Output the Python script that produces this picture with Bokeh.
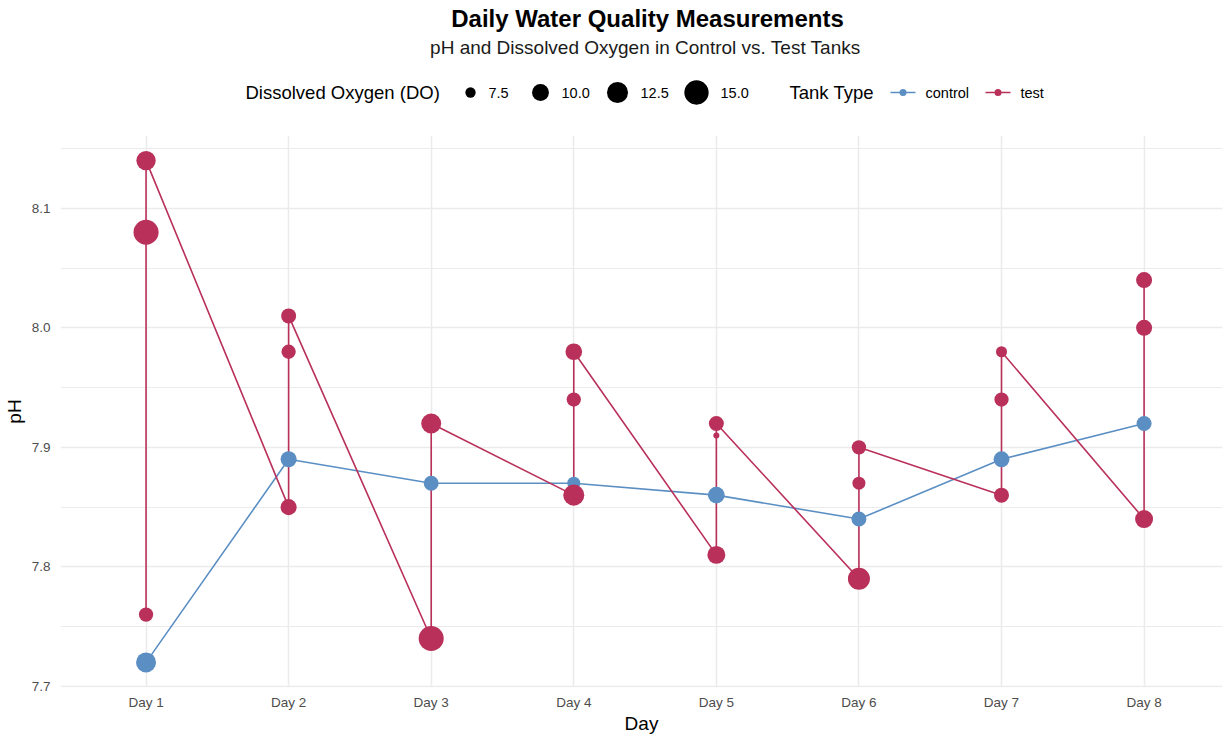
import math
from bokeh.plotting import figure
from bokeh.models import Range1d, FixedTicker
from bokeh.layouts import column
from bokeh.embed import file_html
from bokeh.resources import INLINE
from bokeh.core.properties import value

# ---------------- data ----------------
days = ["Day 1", "Day 2", "Day 3", "Day 4", "Day 5", "Day 6", "Day 7", "Day 8"]

control_day = ["Day 1", "Day 2", "Day 3", "Day 4", "Day 5", "Day 6", "Day 7", "Day 8"]
control_ph = [7.72, 7.89, 7.87, 7.87, 7.86, 7.84, 7.89, 7.92]
control_do = [11.8, 9.6, 9.1, 8.3, 9.9, 9.1, 9.5, 9.1]

test_day = ["Day 1", "Day 1", "Day 1", "Day 2", "Day 2", "Day 2", "Day 3", "Day 3",
            "Day 4", "Day 4", "Day 4", "Day 5", "Day 5", "Day 5", "Day 6", "Day 6", "Day 6",
            "Day 7", "Day 7", "Day 7", "Day 8", "Day 8", "Day 8"]
test_ph = [7.76, 8.08, 8.14, 7.85, 7.98, 8.01, 7.74, 7.92,
           7.86, 7.94, 7.98, 7.81, 7.91, 7.92, 7.79, 7.87, 7.90,
           7.86, 7.94, 7.98, 7.84, 8.00, 8.04]
test_do = [8.8, 15.6, 11.4, 9.6, 8.8, 9.1, 15.6, 11.8,
           12.5, 8.8, 9.9, 10.6, 6.85, 9.1, 13.2, 8.3, 8.8,
           9.1, 8.8, 7.7, 10.6, 9.6, 9.6]

size_breaks = [7.5, 10.0, 12.5, 15.0]
size_labels = ["7.5", "10.0", "12.5", "15.0"]
tank_types = ["control", "test"]
y_ticks = [7.7, 7.8, 7.9, 8.0, 8.1]
y_minor = [7.75, 7.85, 7.95, 8.05, 8.15]

# ---------------- style ----------------
FONT = "Liberation Sans"
BLUE = "#5B8FC4"
RED = "#B9305A"
GRID = "#EBEBEB"


def do_size(v, lo=6.8, hi=16.0, dmin=4.5, dmax=25.5):
    t = max(0.0, (v - lo) / (hi - lo))
    return dmin + (dmax - dmin) * math.sqrt(t)


W = 1225
H_TOTAL = 738
H_HEAD = 128
H_MAIN = H_TOTAL - H_HEAD
FL, FR = 60, 1222          # frame left / right on the page

# ---------------- header (title, subtitle, legend) ----------------
head = figure(width=W, height=H_HEAD, x_range=Range1d(FL, FR), y_range=Range1d(H_HEAD, 0),
              x_axis_type=None, y_axis_type=None, output_backend="svg",
              toolbar_location=None, min_border_left=FL, min_border_right=W - FR,
              min_border_top=0, min_border_bottom=0)
head.grid.visible = False
head.outline_line_color = None

head.text(x=[647], y=[18], text=["Daily Water Quality Measurements"],
          text_font=value(FONT), text_font_size="24px", text_font_style="bold",
          text_align="center", text_baseline="middle", text_color="#000000")
head.text(x=[645], y=[47], text=["pH and Dissolved Oxygen in Control vs. Test Tanks"],
          text_font=value(FONT), text_font_size="19px",
          text_align="center", text_baseline="middle", text_color="#1A1A1A")

LY = 92
head.text(x=[245], y=[LY], text=["Dissolved Oxygen (DO)"],
          text_font=value(FONT), text_font_size="18.5px",
          text_align="left", text_baseline="middle", text_color="#000000")
circ_x = [470, 540, 617, 696]
lab_x = [488, 561, 640, 720]
head.scatter(x=circ_x, y=[LY] * 4, size=[do_size(v) for v in size_breaks],
             marker="circle", fill_color="#000000", line_color=None)
head.text(x=lab_x, y=[LY] * 4, text=size_labels,
          text_font=value(FONT), text_font_size="14.5px",
          text_align="left", text_baseline="middle", text_color="#000000")

head.text(x=[789], y=[LY], text=["Tank Type"],
          text_font=value(FONT), text_font_size="18.5px",
          text_align="left", text_baseline="middle", text_color="#000000")
key_x0 = [890, 985]
key_col = [BLUE, RED]
for i, t in enumerate(tank_types):
    head.line(x=[key_x0[i], key_x0[i] + 25], y=[LY, LY], line_color=key_col[i], line_width=1.6)
    head.scatter(x=[key_x0[i] + 12.5], y=[LY], size=7, marker="circle",
                 fill_color=key_col[i], line_color=None)
head.text(x=[925, 1020], y=[LY, LY], text=tank_types,
          text_font=value(FONT), text_font_size="14.5px",
          text_align="left", text_baseline="middle", text_color="#000000")

# ---------------- main panel ----------------
p = figure(width=W, height=H_MAIN, x_range=Range1d(0.4, 8.55), y_range=Range1d(7.699, 8.161),
           output_backend="svg", toolbar_location=None,
           min_border_left=FL, min_border_right=W - FR, min_border_top=7, min_border_bottom=51)
p.outline_line_color = None

p.xaxis.ticker = FixedTicker(ticks=list(range(1, len(days) + 1)))
p.xaxis.major_label_overrides = {i + 1: d for i, d in enumerate(days)}
p.yaxis.ticker = FixedTicker(ticks=y_ticks, minor_ticks=y_minor)
p.yaxis.major_label_overrides = {v: f"{v:.1f}" for v in y_ticks}

for ax in (p.xaxis[0], p.yaxis[0]):
    ax.axis_line_color = None
    ax.major_tick_line_color = None
    ax.minor_tick_line_color = None
    ax.major_tick_in = 0
    ax.major_tick_out = 0
    ax.major_label_text_font = FONT
    ax.major_label_text_font_size = "13.5px"
    ax.major_label_text_color = "#4D4D4D"
    ax.axis_label_text_font = FONT
    ax.axis_label_text_font_size = "19px"
    ax.axis_label_text_font_style = "normal"
    ax.axis_label_text_color = "#000000"

p.xaxis.axis_label = "Day"
p.yaxis.axis_label = "pH"
p.xaxis.major_label_standoff = 7
p.xaxis.axis_label_standoff = 0
p.yaxis.major_label_standoff = 6
p.yaxis.axis_label_standoff = 4

p.xgrid.grid_line_color = GRID
p.xgrid.grid_line_width = 1.5
p.ygrid.grid_line_color = GRID
p.ygrid.grid_line_width = 1.5
p.ygrid.minor_grid_line_color = GRID
p.ygrid.minor_grid_line_width = 1.0

cx = [days.index(d) + 1 for d in control_day]
tx = [days.index(d) + 1 for d in test_day]

p.line(cx, control_ph, line_color=BLUE, line_width=1.6)
p.line(tx, test_ph, line_color=RED, line_width=1.6)
p.scatter(cx, control_ph, size=[do_size(v) for v in control_do], marker="circle",
          fill_color=BLUE, line_color=None)
p.scatter(tx, test_ph, size=[do_size(v) for v in test_do], marker="circle",
          fill_color=RED, line_color=None)

layout = column(head, p, spacing=0)
open("out.html", "w").write(file_html(layout, INLINE))
